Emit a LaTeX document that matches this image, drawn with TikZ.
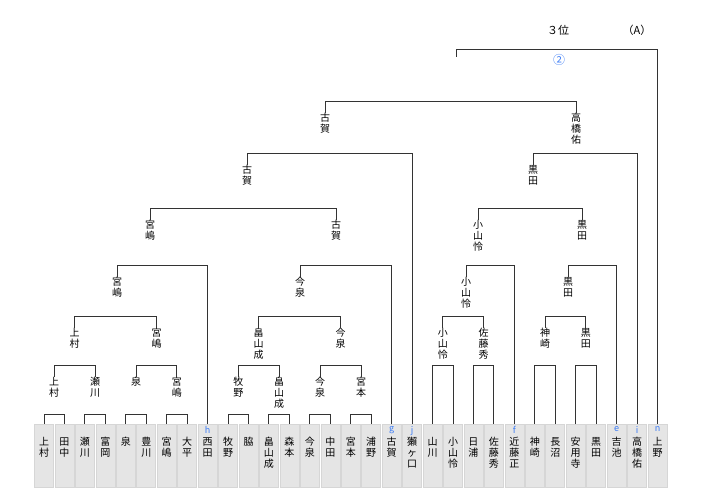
\documentclass[tikz,border=0pt]{standalone}
\usepackage{fontspec}
\newfontfamily\jp{Noto Sans CJK JP}
\usetikzlibrary{positioning}
\definecolor{tagblue}{HTML}{3C7CF5}
\tikzset{every path/.style={black!80, line width=0.95pt},
  pbox/.style={draw=black!16, fill=black!10, line width=0.6pt, minimum width=19pt, minimum height=63pt, anchor=north, inner sep=0pt},
  pname/.style={font=\jp\fontsize{10}{11}\selectfont, text=black, align=center, anchor=north, inner sep=0pt},
  win/.style={font=\jp\fontsize{10}{11}\selectfont, text=black, align=center, anchor=north, inner sep=0pt},
  tag/.style={font=\jp\fontsize{9}{9}\selectfont, text=tagblue, anchor=north, inner sep=0pt}}

\begin{document}
\begin{tikzpicture}[x=1pt,y=1pt]
  \useasboundingbox (0,0) rectangle (720,494);
  % players
  \node[pbox] (p1)  at ( 44.00,70) {};
  \node[pbox] (p2)  at ( 64.45,70) {};
  \node[pbox] (p3)  at ( 84.90,70) {};
  \node[pbox] (p4)  at (105.35,70) {};
  \node[pbox] (p5)  at (125.80,70) {};
  \node[pbox] (p6)  at (146.25,70) {};
  \node[pbox] (p7)  at (166.70,70) {};
  \node[pbox] (p8)  at (187.15,70) {};
  \node[pbox] (p9)  at (207.60,70) {};
  \node[pbox] (p10) at (228.05,70) {};
  \node[pbox] (p11) at (248.50,70) {};
  \node[pbox] (p12) at (268.95,70) {};
  \node[pbox] (p13) at (289.40,70) {};
  \node[pbox] (p14) at (309.85,70) {};
  \node[pbox] (p15) at (330.30,70) {};
  \node[pbox] (p16) at (350.75,70) {};
  \node[pbox] (p17) at (371.20,70) {};
  \node[pbox] (p18) at (391.65,70) {};
  \node[pbox] (p19) at (412.10,70) {};
  \node[pbox] (p20) at (432.55,70) {};
  \node[pbox] (p21) at (453.00,70) {};
  \node[pbox] (p22) at (473.45,70) {};
  \node[pbox] (p23) at (493.90,70) {};
  \node[pbox] (p24) at (514.35,70) {};
  \node[pbox] (p25) at (534.80,70) {};
  \node[pbox] (p26) at (555.25,70) {};
  \node[pbox] (p27) at (575.70,70) {};
  \node[pbox] (p28) at (596.15,70) {};
  \node[pbox] (p29) at (616.60,70) {};
  \node[pbox] (p30) at (637.05,70) {};
  \node[pbox] (p31) at (657.50,70) {};
  \node[pname, below=13pt of p1.north]  (n1)  {上\\村};
  \node[pname, below=13pt of p2.north]  (n2)  {田\\中};
  \node[pname, below=13pt of p3.north]  (n3)  {瀬\\川};
  \node[pname, below=13pt of p4.north]  (n4)  {富\\岡};
  \node[pname, below=13pt of p5.north]  (n5)  {泉};
  \node[pname, below=13pt of p6.north]  (n6)  {豊\\川};
  \node[pname, below=13pt of p7.north]  (n7)  {宮\\嶋};
  \node[pname, below=13pt of p8.north]  (n8)  {大\\平};
  \node[pname, below=13pt of p9.north]  (n9)  {西\\田};
  \node[pname, below=13pt of p10.north] (n10) {牧\\野};
  \node[pname, below=13pt of p11.north] (n11) {脇};
  \node[pname, below=13pt of p12.north] (n12) {畠\\山\\成};
  \node[pname, below=13pt of p13.north] (n13) {森\\本};
  \node[pname, below=13pt of p14.north] (n14) {今\\泉};
  \node[pname, below=13pt of p15.north] (n15) {中\\田};
  \node[pname, below=13pt of p16.north] (n16) {宮\\本};
  \node[pname, below=13pt of p17.north] (n17) {浦\\野};
  \node[pname, below=13pt of p18.north] (n18) {古\\賀};
  \node[pname, below=13pt of p19.north] (n19) {獺\\ヶ\\口};
  \node[pname, below=13pt of p20.north] (n20) {山\\川};
  \node[pname, below=13pt of p21.north] (n21) {小\\山\\怜};
  \node[pname, below=13pt of p22.north] (n22) {日\\浦};
  \node[pname, below=13pt of p23.north] (n23) {佐\\藤\\秀};
  \node[pname, below=13pt of p24.north] (n24) {近\\藤\\正};
  \node[pname, below=13pt of p25.north] (n25) {神\\崎};
  \node[pname, below=13pt of p26.north] (n26) {長\\沼};
  \node[pname, below=13pt of p27.north] (n27) {安\\用\\寺};
  \node[pname, below=13pt of p28.north] (n28) {黒\\田};
  \node[pname, below=13pt of p29.north] (n29) {吉\\池};
  \node[pname, below=13pt of p30.north] (n30) {高\\橋\\佑};
  \node[pname, below=13pt of p31.north] (n31) {上\\野};
  \node[tag, below=2pt of p9.north]  (t9)  {h};
  \node[tag, below=2pt of p18.north] (t18) {g};
  \node[tag, below=2pt of p19.north] (t19) {j};
  \node[tag, below=2pt of p24.north] (t24) {f};
  \node[tag, below=2pt of p29.north] (t29) {e};
  \node[tag, below=2pt of p30.north] (t30) {i};
  \node[tag, below=2pt of p31.north] (t31) {n};
  % winners
  \node[win] (u2)  at ( 54.2,117) {上\\村};
  \node[win] (se2) at ( 95.1,117) {瀬\\川};
  \node[win] (iz2) at (136.0,117) {泉};
  \node[win] (mi2) at (176.9,117) {宮\\嶋};
  \node[win] (mk2) at (238.3,117) {牧\\野};
  \node[win] (ha2) at (279.2,117) {畠\\山\\成};
  \node[win] (im2) at (320.1,117) {今\\泉};
  \node[win] (mm2) at (361.0,117) {宮\\本};
  \node[win] (u3)  at ( 74.7,166) {上\\村};
  \node[win] (mi3) at (156.5,166) {宮\\嶋};
  \node[win] (ha3) at (258.7,166) {畠\\山\\成};
  \node[win] (im3) at (340.5,166) {今\\泉};
  \node[win] (ko3) at (442.8,166) {小\\山\\怜};
  \node[win] (sa3) at (483.7,166) {佐\\藤\\秀};
  \node[win] (ka3) at (545.0,166) {神\\崎};
  \node[win] (ku3) at (585.9,166) {黒\\田};
  \node[win] (mi4) at (117.0,217) {宮\\嶋};
  \node[win] (im4) at (300.0,217) {今\\泉};
  \node[win] (ko4) at (466.0,217) {小\\山\\怜};
  \node[win] (ku4) at (568.0,217) {黒\\田};
  \node[win] (mi5) at (150.0,274) {宮\\嶋};
  \node[win] (kg5) at (336.0,274) {古\\賀};
  \node[win] (ko5) at (478.0,274) {小\\山\\怜};
  \node[win] (ku5) at (582.0,274) {黒\\田};
  \node[win] (kg6) at (247.0,329) {古\\賀};
  \node[win] (ku6) at (533.0,329) {黒\\田};
  \node[win] (kg7) at (325.0,381) {古\\賀};
  \node[win] (ta7) at (576.0,381) {高\\橋\\佑};
  \coordinate (fin) at (456,437);
  % round 1
  \draw (p1.north)  -- ++(0,10) -| (p2.north);
  \draw (p3.north)  -- ++(0,10) -| (p4.north);
  \draw (p5.north)  -- ++(0,10) -| (p6.north);
  \draw (p7.north)  -- ++(0,10) -| (p8.north);
  \draw (p10.north) -- ++(0,10) -| (p11.north);
  \draw (p12.north) -- ++(0,10) -| (p13.north);
  \draw (p14.north) -- ++(0,10) -| (p15.north);
  \draw (p16.north) -- ++(0,10) -| (p17.north);
  \draw (p20.north) -- ++(0,59) -| (p21.north);
  \draw (p22.north) -- ++(0,59) -| (p23.north);
  \draw (p25.north) -- ++(0,59) -| (p26.north);
  \draw (p27.north) -- ++(0,59) -| (p28.north);
  % later rounds
  \draw (u2.north)  -- ++(0,12) -| (se2.north);
  \draw (iz2.north) -- ++(0,12) -| (mi2.north);
  \draw (mk2.north) -- ++(0,12) -| (ha2.north);
  \draw (im2.north) -- ++(0,12) -| (mm2.north);
  \draw (u3.north)  -- ++(0,12) -| (mi3.north);
  \draw (ha3.north) -- ++(0,12) -| (im3.north);
  \draw (ko3.north) -- ++(0,12) -| (sa3.north);
  \draw (ka3.north) -- ++(0,12) -| (ku3.north);
  \draw (mi4.north) -- ++(0,12) -| (p9.north);
  \draw (im4.north) -- ++(0,12) -| (p18.north);
  \draw (ko4.north) -- ++(0,12) -| (p24.north);
  \draw (ku4.north) -- ++(0,12) -| (p29.north);
  \draw (mi5.north) -- ++(0,12) -| (kg5.north);
  \draw (ko5.north) -- ++(0,12) -| (ku5.north);
  \draw (kg6.north) -- ++(0,12) -| (p19.north);
  \draw (ku6.north) -- ++(0,12) -| (p30.north);
  \draw (kg7.north) -- ++(0,12) -| (ta7.north);
  \draw (fin) -- ++(0,8) -| (p31.north);
  % heading
  \node[win, anchor=center, font=\jp\fontsize{11}{11}\selectfont] (place) at (558,464) {３位};
  \node[win, anchor=center, font=\jp\fontsize{11}{11}\selectfont] (group) at (637,464) {（A）};
  \node[tag, anchor=center, font=\jp\fontsize{12}{12}\selectfont] (mark) at (559,434) {②};
\end{tikzpicture}
\end{document}
